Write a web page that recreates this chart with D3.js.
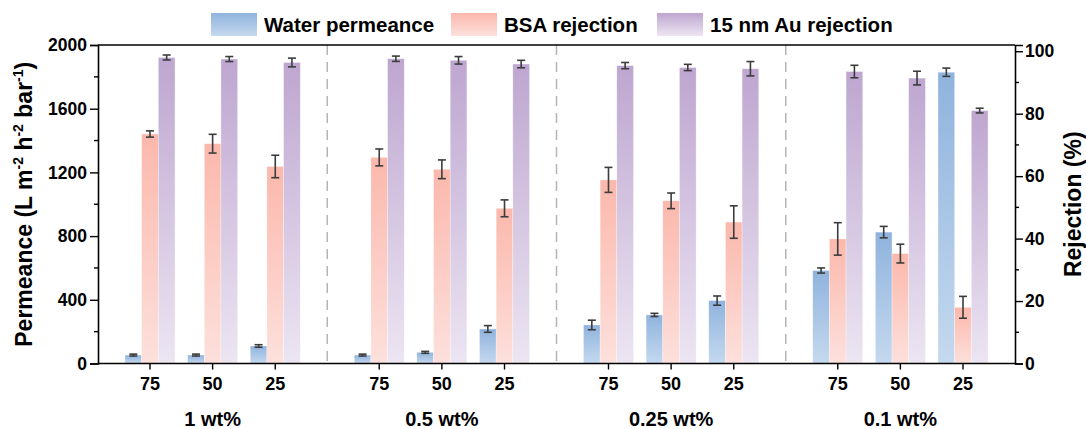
<!DOCTYPE html>
<html>
<head>
<meta charset="utf-8">
<script src="https://cdn.jsdelivr.net/npm/d3@7"></script>
<style>
  body { margin: 0; background: #fff; }
  svg { display: block; }
  text { font-family: Arial, "Liberation Sans", sans-serif; font-weight: bold; fill: #000; }
</style>
</head>
<body>
<div id="chart"></div>
<script>
const width = 1086, height = 429;
const margin = { top: 45, right: 71, bottom: 65.5, left: 98 };

// data
const groups = ["1 wt%", "0.5 wt%", "0.25 wt%", "0.1 wt%"];
const temps = ["75", "50", "25"];
const permeance = [53, 53, 110, 53, 70, 217, 242, 305, 395, 584, 825, 1829];
const permErr = [6, 6, 8, 6, 6, 21, 30, 10, 29, 16, 36, 26];
const bsa = [73.5, 70.4, 63.1, 66.0, 62.2, 49.7, 58.8, 52.1, 45.3, 39.9, 35.2, 18.0];
const bsaErr = [1.0, 3.0, 3.6, 2.7, 3.0, 2.7, 4.0, 2.5, 5.2, 5.2, 3.0, 3.5];
const au = [98.0, 97.5, 96.4, 97.6, 97.1, 95.9, 95.4, 94.8, 94.4, 93.5, 91.4, 81.0];
const auErr = [0.8, 0.8, 1.4, 0.85, 1.2, 1.2, 1.0, 1.0, 2.3, 2.0, 2.2, 0.75];
const leftTicks = [0, 400, 800, 1200, 1600, 2000];
const rightTicks = [0, 20, 40, 60, 80, 100];

const seriesNames = ["Water permeance", "BSA rejection", "15 nm Au rejection"];
const gradTop = ["#8fb3dd", "#fbb8ac", "#bea6d0"];
const gradBot = ["#c5d9ef", "#fde0dc", "#ece5f2"];

const innerWidth = width - margin.left - margin.right;
const innerHeight = height - margin.top - margin.bottom;

const svg = d3.select("#chart").append("svg")
  .attr("width", width)
  .attr("height", height);

const defs = svg.append("defs");
gradTop.forEach((c, i) => {
  const lg = defs.append("linearGradient").attr("id", "grad" + i)
    .attr("x1", 0).attr("y1", 0).attr("x2", 0).attr("y2", 1);
  lg.append("stop").attr("offset", "0%").attr("stop-color", c);
  lg.append("stop").attr("offset", "100%").attr("stop-color", gradBot[i]);
});

const g = svg.append("g").attr("transform", `translate(${margin.left},${margin.top})`);

const xGroup = d3.scaleBand().domain(groups).range([0, innerWidth]);
const xCat = d3.scalePoint().domain(temps).range([0, xGroup.bandwidth()]).padding(0.83);
const xSeries = d3.scaleBand().domain([0, 1, 2]).range([-25, 25]);

const yL = d3.scaleLinear().domain([0, 2000]).range([innerHeight, 0]);
const yR = d3.scaleLinear().domain([0, 102]).range([innerHeight, 0]);

const rows = [];
groups.forEach((grp, gi) => {
  temps.forEach((t, ti) => {
    const k = gi * 3 + ti;
    const cx = xGroup(grp) + xCat(t);
    rows.push({ cx, s: 0, v: permeance[k], e: permErr[k], y: yL });
    rows.push({ cx, s: 1, v: bsa[k], e: bsaErr[k], y: yR });
    rows.push({ cx, s: 2, v: au[k], e: auErr[k], y: yR });
  });
});

// dashed separators
g.selectAll(".sep").data(groups.slice(1)).join("line")
  .attr("x1", d => xGroup(d)).attr("x2", d => xGroup(d))
  .attr("y1", 0).attr("y2", innerHeight)
  .attr("stroke", "#b4b4b4").attr("stroke-width", 1.5)
  .attr("stroke-dasharray", "10,7");

// bars
g.selectAll(".bar").data(rows).join("rect")
  .attr("x", d => d.cx + xSeries(d.s))
  .attr("width", xSeries.bandwidth())
  .attr("y", d => d.y(d.v))
  .attr("height", d => innerHeight - d.y(d.v))
  .attr("fill", d => `url(#grad${d.s})`)
  .attr("stroke", "#ffffff").attr("stroke-opacity", 0.5).attr("stroke-width", 0.6);

// error bars
const mid = d => d.cx + xSeries(d.s) + xSeries.bandwidth() / 2;
const eb = g.selectAll(".err").data(rows).join("g")
  .attr("stroke", "#3c3c3c").attr("stroke-width", 1.6);
eb.append("line")
  .attr("x1", mid).attr("x2", mid)
  .attr("y1", d => d.y(d.v + d.e)).attr("y2", d => d.y(d.v - d.e));
[1, -1].forEach(sg => {
  eb.append("line")
    .attr("x1", d => mid(d) - 4).attr("x2", d => mid(d) + 4)
    .attr("y1", d => d.y(d.v + sg * d.e)).attr("y2", d => d.y(d.v + sg * d.e));
});

// axes
const axisL = g.append("g")
  .call(d3.axisLeft(yL).tickValues(leftTicks).tickSize(8).tickFormat(d3.format("d")));
g.selectAll(".minL").data(d3.range(200, 2000, 400)).join("line")
  .attr("x1", 0).attr("x2", -4).attr("y1", d => yL(d)).attr("y2", d => yL(d))
  .attr("stroke", "#000").attr("stroke-width", 1.4);

const axisR = g.append("g").attr("transform", `translate(${innerWidth},0)`)
  .call(d3.axisRight(yR).tickValues(rightTicks).tickSize(8).tickFormat(d3.format("d")));
g.selectAll(".minR").data(d3.range(10, 100, 20)).join("line")
  .attr("x1", innerWidth).attr("x2", innerWidth + 4).attr("y1", d => yR(d)).attr("y2", d => yR(d))
  .attr("stroke", "#000").attr("stroke-width", 1.4);

const catTicks = [];
groups.forEach(grp => temps.forEach(t => catTicks.push({ x: xGroup(grp) + xCat(t), t })));
const axisB = g.append("g").attr("transform", `translate(0,${innerHeight})`);
axisB.append("line").attr("x1", 0).attr("x2", innerWidth).attr("stroke", "#000").attr("stroke-width", 1.6);
axisB.selectAll(".bt").data(catTicks).join("line")
  .attr("x1", d => d.x).attr("x2", d => d.x).attr("y1", 0).attr("y2", 6)
  .attr("stroke", "#000").attr("stroke-width", 1.4);
axisB.selectAll(".bl").data(catTicks).join("text")
  .attr("x", d => d.x).attr("y", 26.5).attr("text-anchor", "middle")
  .attr("font-size", "18px").text(d => d.t);
axisB.selectAll(".gl").data(groups).join("text")
  .attr("x", d => xGroup(d) + xGroup.bandwidth() / 2).attr("y", 62)
  .attr("text-anchor", "middle").attr("font-size", "20px").text(d => d);

// top frame line
g.append("line").attr("x1", 0).attr("x2", innerWidth).attr("y1", 0).attr("y2", 0)
  .attr("stroke", "#000").attr("stroke-width", 1.6);

[axisL, axisR].forEach(a => {
  a.select(".domain").attr("stroke-width", 1.6);
  a.selectAll(".tick line").attr("stroke-width", 1.4);
  a.selectAll(".tick text").attr("font-size", "17.5px").attr("font-family", "Arial, 'Liberation Sans', sans-serif")
    .attr("font-weight", "bold").attr("fill", "#000");
});
axisL.selectAll(".tick text").attr("x", -11);
axisR.selectAll(".tick text").attr("x", 10);

// axis titles
const tl = svg.append("text")
  .attr("transform", `translate(32,${margin.top + innerHeight / 2}) rotate(-90)`)
  .attr("text-anchor", "middle").attr("font-size", "23px");
tl.append("tspan").text("Permeance (L m");
tl.append("tspan").attr("dy", -9).attr("font-size", "14px").text("-2");
tl.append("tspan").attr("dy", 9).text(" h");
tl.append("tspan").attr("dy", -9).attr("font-size", "14px").text("-2");
tl.append("tspan").attr("dy", 9).text(" bar");
tl.append("tspan").attr("dy", -9).attr("font-size", "14px").text("-1");
tl.append("tspan").attr("dy", 9).text(")");

svg.append("text")
  .attr("transform", `translate(1081,${margin.top + innerHeight / 2}) rotate(-90)`)
  .attr("text-anchor", "middle").attr("font-size", "23px")
  .text("Rejection (%)");

// legend
const legX = [211, 451, 657];
const leg = svg.selectAll(".leg").data(seriesNames).join("g")
  .attr("transform", (d, i) => `translate(${legX[i]},13)`);
leg.append("rect").attr("width", 46).attr("height", 23)
  .attr("fill", (d, i) => `url(#grad${i})`);
leg.append("text").attr("x", 53).attr("y", 18.5).attr("font-size", "20.5px").text(d => d);
</script>
</body>
</html>
